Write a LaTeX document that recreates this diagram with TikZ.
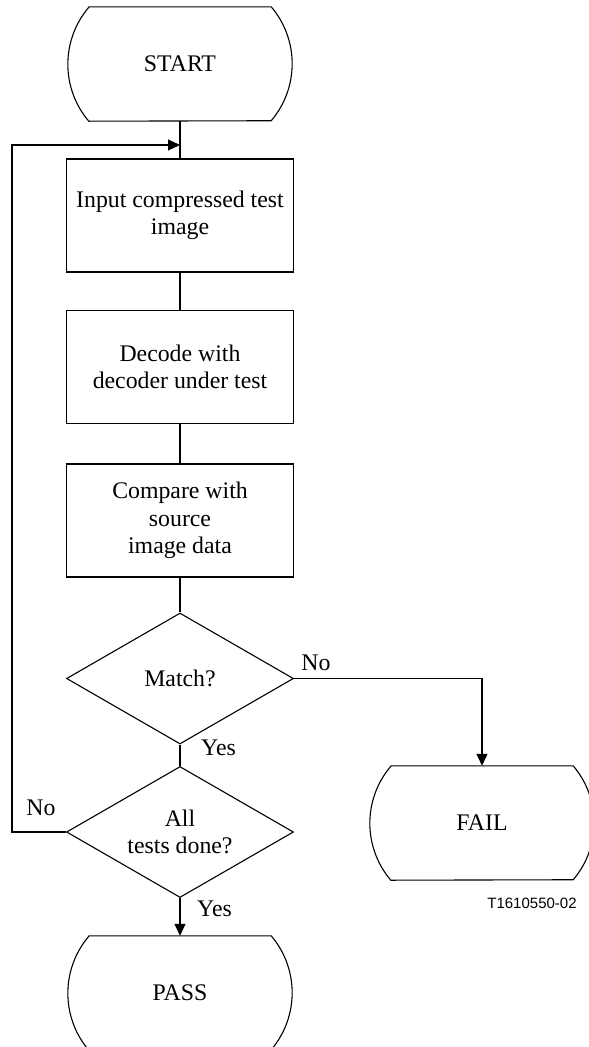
\documentclass[tikz,border=0pt]{standalone}
\usepackage{fontspec}
\setmainfont{Liberation Serif}
\newfontfamily\labsans{Liberation Sans}
\usetikzlibrary{shapes.geometric,arrows.meta}
\newcommand\termoutline[1]{%
  \draw[flowline] (#1.north west) -- (#1.north east)
    arc[start angle=40.4, end angle=-40.4, radius=87.9pt]
    -- (#1.south west)
    arc[start angle=220.4, end angle=139.6, radius=87.9pt] -- cycle;}
\begin{document}
\begin{tikzpicture}[x=1pt,y=-1pt,
  every node/.style={font=\fontsize{23.8}{27.5}\selectfont},
  flowline/.style={line width=1.1pt},
  arr/.style={flowline, -{Triangle[length=12pt,width=11pt]}},
  procbox/.style={draw, line width=1.1pt, minimum width=227pt, minimum height=113pt, align=center, inner sep=0pt},
  decision/.style={draw, diamond, line width=1.1pt, minimum width=227pt, minimum height=131pt, aspect=1.73, inner sep=0pt, align=center},
  terminal/.style={minimum width=182pt, minimum height=114pt, inner sep=0pt},
  lbl/.style={inner sep=1pt},
]
\useasboundingbox (0,0) rectangle (589,1047);

\node[terminal] (start) at (180,64) {START};
\node[procbox] (b1) at (180,215.5) {Input compressed test\\image};
\node[procbox] (b2) at (180,367) {Decode with\\decoder under test};
\node[procbox] (b3) at (180,520.5) {Compare with\\source\\image data};
\node[decision] (match) at (180,678.5) {Match?};
\node[decision] (all) at (180,832) {All\\tests done?};
\node[terminal] (fail) at (482,823) {FAIL};
\node[terminal] (pass) at (180,993) {PASS};

\termoutline{start}
\termoutline{fail}
\termoutline{pass}

\coordinate (join) at (180,145);
\coordinate (loop) at (12,0);

\draw[flowline] (start) -- (b1);
\draw[flowline] (b1) -- (b2);
\draw[flowline] (b2) -- (b3);
\draw[flowline] (b3) -- (match);
\draw[flowline] (match) -- (all);
\draw[arr] (all) -- (pass);
\draw[arr] (match.east) -| (fail.north);
\draw[arr] (all.west) -- (all.west -| loop) |- (join);

\node[lbl, anchor=west] (yes1) at (200,748) {Yes};
\node[lbl] (no1) at (316,663) {No};
\node[lbl] (no2) at (41,808) {No};
\node[lbl, anchor=west] (yes2) at (196,909) {Yes};
\node[lbl, font=\labsans\fontsize{15}{18}\selectfont] (tag) at (532,903) {T1610550-02};
\end{tikzpicture}
\end{document}
